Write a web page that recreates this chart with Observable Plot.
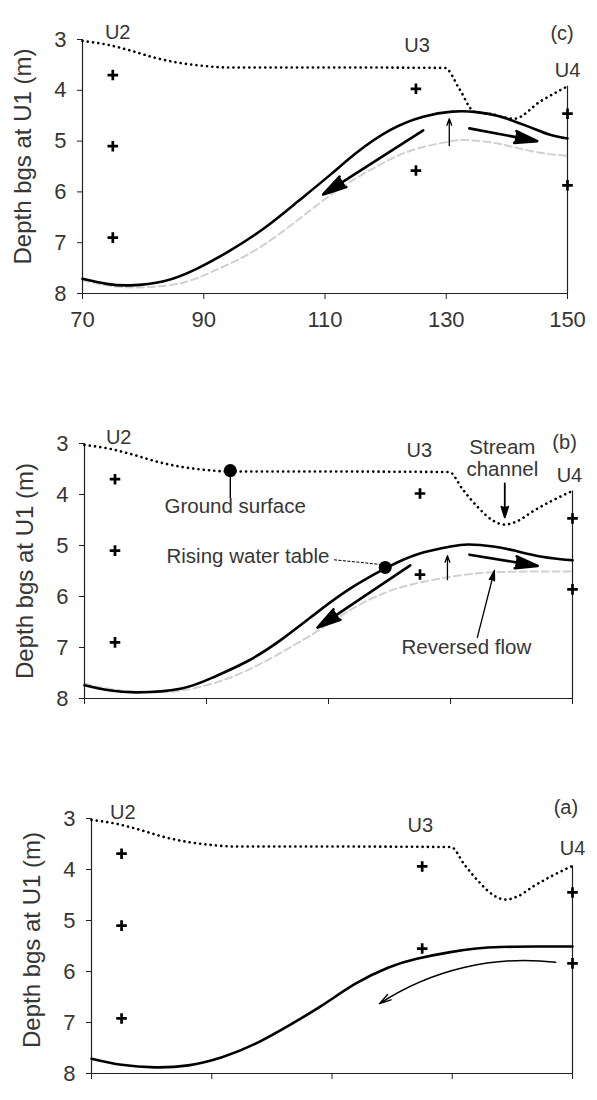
<!DOCTYPE html>
<html>
<head>
<meta charset="utf-8">
<script src="https://cdn.jsdelivr.net/npm/d3@7"></script>
<script src="https://cdn.jsdelivr.net/npm/@observablehq/plot@0.6"></script>
<style>
  body { margin: 0; background: #fff; }
  #chart svg { display: block; }
</style>
</head>
<body>
<div id="chart"></div>
<script>
// ---------- data ----------
const xTicks = [70, 90, 110, 130, 150];
const yTicks = [3, 4, 5, 6, 7, 8];
const yLabel = "Depth bgs at U1 (m)";
const wellNames = ["U2", "U3", "U4"];

// ground surface (dotted)
const groundC_x = [70, 74, 78, 82, 86, 90, 94, 110, 129.8, 132.2, 134.6, 137.5, 141.2, 145.5, 150];
const groundC_d = [3.03, 3.1, 3.22, 3.36, 3.46, 3.52, 3.55, 3.55, 3.56, 3.98, 4.42, 4.47, 4.56, 4.22, 3.92];
const groundAB_x = [70, 74, 78, 82, 86, 90, 94, 110, 129.8, 132, 134.5, 136.8, 138.9, 141, 143.5, 146.5, 150];
const groundAB_d = [3.03, 3.1, 3.22, 3.36, 3.46, 3.52, 3.55, 3.55, 3.56, 3.9, 4.25, 4.5, 4.59, 4.52, 4.33, 4.13, 3.93];

// water tables (solid)
const wtA_x = [70, 75, 80.6, 86.1, 91.7, 97.2, 102.8, 108.3, 113.9, 119.4, 124.1, 129.7, 134, 138, 144, 150];
const wtA_d = [7.71, 7.83, 7.88, 7.84, 7.68, 7.42, 7.06, 6.67, 6.24, 5.92, 5.75, 5.62, 5.55, 5.52, 5.51, 5.51];
const wtB_x = [70, 74, 78.6, 85.7, 91.2, 96.7, 102.1, 107.6, 113.1, 119.3, 124.6, 130, 133, 137, 140.5, 145, 150];
const wtB_d = [7.74, 7.84, 7.88, 7.81, 7.58, 7.27, 6.86, 6.36, 5.88, 5.45, 5.17, 5.02, 4.98, 5.02, 5.10, 5.22, 5.29];
const wtC_x = [70, 74, 77.9, 83.4, 88.9, 94.4, 99.9, 105.4, 110.9, 115.3, 120.8, 126.2, 131, 135, 138.4, 141, 143.9, 147, 150];
const wtC_d = [7.71, 7.81, 7.84, 7.76, 7.51, 7.15, 6.72, 6.20, 5.66, 5.22, 4.78, 4.52, 4.42, 4.43, 4.50, 4.60, 4.73, 4.87, 4.95];

// piezometer screens (+)
const pzX = [75, 75, 75, 125, 125, 150, 150];
const pzC_d = [3.7, 5.1, 6.9, 3.97, 5.58, 4.46, 5.87];
const pzB_d = [3.7, 5.1, 6.9, 3.98, 5.57, 4.47, 5.86];
const pzA_d = [3.69, 5.1, 6.92, 3.94, 5.55, 4.45, 5.84];

// well label positions
const wellC_x = [75.8, 125.2, 150], wellC_d = [2.86, 3.12, 3.61];
const wellB_x = [75.6, 124.9, 149.5], wellB_d = [2.88, 3.14, 3.63];
const wellA_x = [75.2, 124.7, 150], wellA_d = [2.88, 3.14, 3.59];

// flow arrows
const flowC = {x1: [126.2, 133.8], y1: [4.79, 4.75], x2: [109.7, 145.0], y2: [6.05, 5.0]};
const riseC = {x1: [130.5], y1: [5.09], x2: [130.5], y2: [4.56]};
const flowB = {x1: [123.4, 133.1], y1: [5.39, 5.18], x2: [108.2, 144.3], y2: [6.61, 5.40]};
const riseB = {x1: [129.5], y1: [5.67], x2: [129.5], y2: [5.2]};
const flowA = {x1: [147.2], y1: [5.82], x2: [117.9], y2: [6.63]};

// annotations in (b)
const annotText = ["Ground surface", "Rising water table", "Reversed flow", "Stream\nchannel"];
const annotX = [94.7, 96.8, 132.6, 138.5];
const annotD = [4.23, 5.2, 7.0, 3.29];
const groundDot = {x: [93.9], d: [3.53], dEnd: [4.08]};
const riseDot = {x: [119.3], d: [5.43]};
const riseLeader = {x1: [110.9], y1: [5.28], x2: [118.4], y2: [5.37]};
const reversedArrow = {x1: [134.4], y1: [6.8], x2: [137.2], y2: [5.49]};
const streamArrow = {x1: [138.9], y1: [3.78], x2: [138.9], y2: [4.45]};

const panelTags = ["(c)", "(b)", "(a)"];
const tagX = [149.1, 148.7, 148.9];
const tagD = [2.88, 2.98, 2.78];

// ---------- drawing ----------
const FONT = "'Liberation Sans', Arial, Helvetica, sans-serif";
const TXT = "#363636";

const idx = (arr) => arr.map((_, i) => i);

function arrowMark(a, opts) {
  return Plot.arrow(idx(a.x1), {
    x1: i => a.x1[i], y1: i => a.y1[i], x2: i => a.x2[i], y2: i => a.y2[i],
    stroke: "black", ...opts
  });
}

function panel({height, mt, mb, ml, mr, ground, wt, prev, pz, wells, tagIndex, xLabels, labelDy, extra}) {
  const [gx, gd] = ground;
  const [wx, wd] = wt;
  const marks = [
    // previous water tables (faint, dashed)
    ...prev.map(([px, pd]) => Plot.line(idx(px), {x: i => px[i], y: i => pd[i], curve: "natural",
      stroke: "#d0d0d0", strokeWidth: 2, strokeDasharray: "7,4"})),
    // axes
    Plot.ruleX([70], {stroke: "#222", strokeWidth: 1.2}),
    Plot.ruleY([8], {stroke: "#222", strokeWidth: 1.2}),
    Plot.ruleX([150], {y1: gd[gd.length - 1], y2: 8, stroke: "#222", strokeWidth: 1.2}),
    Plot.axisY({ticks: yTicks, tickSize: 5, tickPadding: 11, fontSize: 22, label: null, color: TXT, stroke: "#222",
      tickFormat: d => String(d)}),
    Plot.axisX({ticks: xTicks, tickSize: 6, tickPadding: 12, fontSize: 22, label: null, color: TXT, stroke: "#222",
      tickFormat: xLabels ? (d => String(d)) : (() => "")}),
    Plot.text([yLabel], {text: d => d, frameAnchor: "left", textAnchor: "middle", rotate: -90, dx: -59, dy: labelDy,
      fontSize: 24, fill: TXT}),
    // ground surface
    Plot.line(idx(gx), {x: i => gx[i], y: i => gd[i], curve: "monotone-x", stroke: "black",
      strokeWidth: 2.6, strokeDasharray: "0.1,5.2", strokeLinecap: "round"}),
    // water table
    Plot.line(idx(wx), {x: i => wx[i], y: i => wd[i], curve: "natural", stroke: "black", strokeWidth: 2.6}),
    // piezometers
    Plot.dot(idx(pzX), {x: i => pzX[i], y: i => pz[i], symbol: "plus", r: 3.5, stroke: "black", strokeWidth: 2.7}),
    // well labels
    Plot.text(wellNames, {x: (d, i) => wells[0][i], y: (d, i) => wells[1][i], text: d => d, fontSize: 20, fill: TXT, letterSpacing: 1}),
    Plot.text([panelTags[tagIndex]], {x: tagX[tagIndex], y: tagD[tagIndex], text: d => d, fontSize: 20, fill: TXT}),
    ...extra
  ];
  return Plot.plot({
    width: 597, height, marginTop: mt, marginBottom: mb, marginLeft: ml, marginRight: mr,
    x: {domain: [70, 150]}, y: {domain: [3, 8], reverse: true},
    style: {fontFamily: FONT, background: "white", overflow: "visible"},
    marks
  });
}

const root = document.getElementById("chart");

root.append(panel({
  height: 370, mt: 39, mb: 77, ml: 82, mr: 30,
  ground: [groundC_x, groundC_d], wt: [wtC_x, wtC_d], prev: [[wtB_x, wtB_d]],
  pz: pzC_d, wells: [wellC_x, wellC_d], tagIndex: 0, xLabels: true, labelDy: -10,
  extra: [
    arrowMark(flowC, {strokeWidth: 2.6, headLength: 14, headAngle: 30, fill: "black"}),
    arrowMark(riseC, {strokeWidth: 1.3, headLength: 8, headAngle: 40})
  ]
}));

root.append(panel({
  height: 375, mt: 73, mb: 47, ml: 84, mr: 25,
  ground: [groundAB_x, groundAB_d], wt: [wtB_x, wtB_d], prev: [[wtA_x, wtA_d]],
  pz: pzB_d, wells: [wellB_x, wellB_d], tagIndex: 1, xLabels: false, labelDy: 0,
  extra: [
    arrowMark(flowB, {strokeWidth: 2.6, headLength: 14, headAngle: 30, fill: "black"}),
    arrowMark(riseB, {strokeWidth: 1.3, headLength: 8, headAngle: 40}),
    arrowMark(reversedArrow, {strokeWidth: 1.3, headLength: 12, headAngle: 30, fill: "black"}),
    arrowMark(streamArrow, {strokeWidth: 1.8, headLength: 12, headAngle: 35, fill: "black"}),
    Plot.ruleX(groundDot.x, {y1: groundDot.d, y2: groundDot.dEnd, stroke: "black", strokeWidth: 1.4}),
    Plot.dot(groundDot.x, {x: d => d, y: groundDot.d, r: 6.5, fill: "black"}),
    Plot.link(riseLeader.x1, {x1: riseLeader.x1, y1: riseLeader.y1, x2: riseLeader.x2, y2: riseLeader.y2,
      stroke: "black", strokeWidth: 1, strokeDasharray: "3,1.5"}),
    Plot.dot(riseDot.x, {x: d => d, y: riseDot.d, r: 6.5, fill: "black"}),
    Plot.text(annotText, {x: (d, i) => annotX[i], y: (d, i) => annotD[i], text: d => d, fontSize: 20.5,
      fill: TXT, lineHeight: 1.05, letterSpacing: 0.5})
  ]
}));

root.append(panel({
  height: 355, mt: 73, mb: 27, ml: 91, mr: 25,
  ground: [groundAB_x, groundAB_d], wt: [wtA_x, wtA_d], prev: [],
  pz: pzA_d, wells: [wellA_x, wellA_d], tagIndex: 2, xLabels: false, labelDy: -6,
  extra: [
    arrowMark(flowA, {strokeWidth: 1.4, headLength: 13, headAngle: 30, bend: -20})
  ]
}));
</script>
</body>
</html>
